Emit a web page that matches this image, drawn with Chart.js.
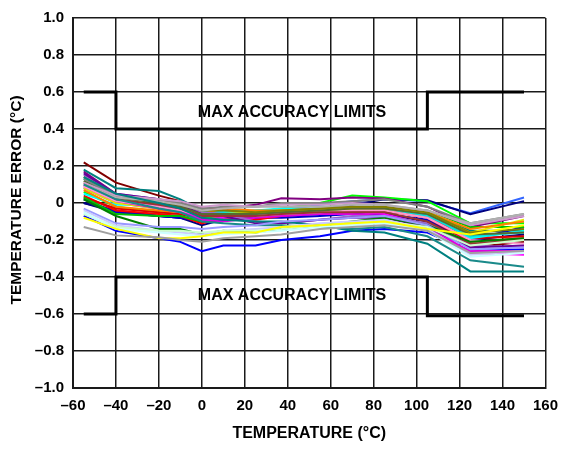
<!DOCTYPE html>
<html>
<head>
<meta charset="utf-8">
<script src="https://cdn.jsdelivr.net/npm/chart.js@4/dist/chart.umd.min.js"></script>
<style>
html,body{margin:0;padding:0;background:#fff;}
#wrap{width:567px;height:449px;}
</style>
</head>
<body>
<div id="wrap"><canvas id="c" width="567" height="449"></canvas></div>
<script>
const xTemps = [-55, -40, -20, -10, 0, 10, 25, 37, 55, 70, 85, 105, 125, 150];

const sDarkRed  = [0.22, 0.11, 0.04, 0.01, -0.03, -0.03, -0.05, -0.06, -0.05, -0.04, -0.07, -0.12, -0.24, -0.21];
const sTealHi   = [0.18, 0.08, 0.065, 0.02, -0.04, -0.05, -0.06, -0.04, -0.05, -0.05, -0.05, -0.06, -0.15, -0.15];
const sTealLo1  = [0.14, 0.05, 0.0, -0.03, -0.08, -0.09, -0.1, -0.1, -0.12, -0.15, -0.16, -0.22, -0.37, -0.37];
const sTealLo2  = [0.10, 0.02, -0.03, -0.05, -0.10, -0.11, -0.12, -0.12, -0.13, -0.14, -0.13, -0.18, -0.31, -0.345];
const sBlueHi   = [0.08, 0.0, -0.03, -0.04, -0.07, -0.06, -0.05, -0.04, -0.01, 0.01, 0.02, 0.01, -0.055, 0.03];
const sNavyHi   = [0.0, -0.05, -0.07, -0.08, -0.12, -0.09, -0.08, -0.06, -0.03, -0.01, 0.02, 0.015, -0.06, 0.01];
const sBlueLo   = [-0.07, -0.15, -0.19, -0.21, -0.26, -0.23, -0.23, -0.2, -0.18, -0.15, -0.14, -0.16, -0.26, -0.25];
const sLime     = [0.06, -0.02, -0.05, -0.06, -0.08, -0.07, -0.05, -0.03, 0.0, 0.04, 0.03, 0.01, -0.11, -0.11];
const sPurple   = [0.17, 0.05, 0.0, -0.02, -0.05, -0.03, -0.01, 0.025, 0.02, 0.03, 0.025, -0.02, -0.13, -0.07];
const sYellowLo = [-0.08, -0.14, -0.19, -0.19, -0.18, -0.16, -0.16, -0.13, -0.12, -0.11, -0.10, -0.14, -0.17, -0.12];
const sYellowHi = [0.08, 0.0, -0.03, -0.05, -0.07, -0.06, -0.05, -0.04, -0.04, -0.03, -0.03, -0.05, -0.16, -0.09];
const sGrayLo   = [-0.13, -0.175, -0.185, -0.2, -0.21, -0.19, -0.18, -0.17, -0.14, -0.13, -0.12, -0.15, -0.27, -0.26];
const sGrayHi   = [0.13, 0.04, 0.02, 0.0, -0.03, -0.02, -0.02, 0.0, 0.0, 0.01, 0.02, -0.02, -0.11, -0.06];
const sCyan1    = [0.05, -0.01, -0.01, -0.03, -0.06, -0.05, -0.04, -0.03, -0.03, -0.02, -0.02, -0.06, -0.19, -0.15];
const sCyan2    = [0.13, 0.03, 0.01, -0.01, -0.05, -0.05, -0.04, -0.04, -0.03, -0.03, -0.03, -0.07, -0.18, -0.16];
const sMagenta1 = [0.10, 0.02, -0.02, -0.04, -0.09, -0.08, -0.07, -0.06, -0.05, -0.05, -0.06, -0.12, -0.27, -0.28];
const sMagenta2 = [0.09, 0.01, -0.03, -0.05, -0.09, -0.10, -0.08, -0.07, -0.06, -0.06, -0.07, -0.14, -0.26, -0.26];
const sRed1     = [0.04, -0.04, -0.06, -0.07, -0.11, -0.08, -0.09, -0.07, -0.05, -0.04, -0.04, -0.08, -0.21, -0.19];
const sRed2     = [0.03, -0.03, -0.05, -0.06, -0.09, -0.08, -0.07, -0.06, -0.04, -0.03, -0.03, -0.07, -0.19, -0.18];
const sOrange   = [0.07, -0.02, -0.04, -0.05, -0.06, -0.03, -0.04, -0.04, -0.03, -0.02, -0.02, -0.05, -0.14, -0.10];
const sGreenDk  = [0.02, -0.07, -0.14, -0.14, -0.17, -0.15, -0.16, -0.14, -0.12, -0.10, -0.08, -0.12, -0.21, -0.19];
const sGreen2   = [0.03, -0.06, -0.07, -0.07, -0.10, -0.08, -0.07, -0.06, -0.05, -0.03, -0.02, -0.04, -0.13, -0.13];
const sLtBlue1  = [-0.03, -0.11, -0.13, -0.13, -0.14, -0.13, -0.12, -0.10, -0.09, -0.08, -0.07, -0.12, -0.25, -0.24];
const sLtBlue2  = [-0.04, -0.12, -0.15, -0.16, -0.17, -0.15, -0.14, -0.13, -0.11, -0.10, -0.09, -0.14, -0.28, -0.26];
const sLtCyan   = [-0.05, -0.14, -0.16, -0.17, -0.18, -0.17, -0.16, -0.15, -0.13, -0.12, -0.11, -0.15, -0.29, -0.27];
const sPaleGrn  = [-0.06, -0.13, -0.15, -0.15, -0.16, -0.15, -0.15, -0.14, -0.12, -0.11, -0.10, -0.13, -0.23, -0.20];
const sOlive    = [0.14, 0.04, 0.01, -0.01, -0.04, -0.04, -0.05, -0.04, -0.03, -0.02, -0.02, -0.05, -0.16, -0.14];
const sDkOlive  = [0.12, 0.03, 0.0, -0.02, -0.06, -0.06, -0.06, -0.05, -0.04, -0.03, -0.03, -0.06, -0.17, -0.16];
const sBrown    = [0.11, 0.02, -0.01, -0.03, -0.07, -0.07, -0.07, -0.06, -0.05, -0.05, -0.05, -0.10, -0.22, -0.20];
const sNavy2    = [0.0, -0.04, -0.07, -0.08, -0.10, -0.09, -0.08, -0.07, -0.06, -0.05, -0.06, -0.10, -0.20, -0.17];
const sBlue2    = [0.02, -0.05, -0.07, -0.08, -0.10, -0.09, -0.08, -0.08, -0.07, -0.06, -0.06, -0.09, -0.20, -0.13];
const sLavender = [0.11, 0.04, 0.02, 0.01, -0.02, -0.01, -0.02, -0.01, -0.01, 0.0, -0.01, -0.04, -0.12, -0.07];
const sViolet   = [0.15, 0.05, 0.02, -0.01, -0.05, -0.06, -0.10, -0.11, -0.09, -0.07, -0.07, -0.11, -0.23, -0.24];
const sPink     = [0.09, 0.01, -0.02, -0.04, -0.07, -0.06, -0.07, -0.06, -0.05, -0.04, -0.04, -0.08, -0.20, -0.22];
const sIndigo   = [0.16, 0.05, 0.02, -0.01, -0.06, -0.07, -0.11, -0.11, -0.09, -0.08, -0.08, -0.13, -0.24, -0.23];
const sSilver   = [0.10, 0.03, 0.01, -0.01, -0.04, -0.03, -0.02, -0.02, -0.02, -0.01, -0.01, -0.04, -0.11, -0.06];

const seriesList = [sGrayLo, sYellowLo, sLtCyan, sPaleGrn, sLtBlue2, sLtBlue1, sGreenDk, sTealLo1, sTealLo2,
  sSilver, sLavender, sGrayHi, sOlive, sDkOlive, sBrown, sIndigo, sViolet, sPink, sMagenta2, sMagenta1,
  sOrange, sYellowHi, sGreen2, sCyan2, sCyan1, sRed2, sRed1, sBlue2, sNavy2, sTealHi, sPurple, sDarkRed,
  sLime, sBlueLo, sNavyHi, sBlueHi];
const seriesColors = ['#a0a0a0', '#ffff00', '#ccffff', '#ccffcc', '#ccccff', '#9999ff', '#008000', '#008080', '#1a8a8a',
  '#b0b0b0', '#cc99cc', '#808080', '#808000', '#556b2f', '#993333', '#660099', '#9966cc', '#ff99cc', '#e000e0', '#ff00ff',
  '#ff8000', '#e6e600', '#00c000', '#00e0e0', '#00ffff', '#e00000', '#ff0000', '#0000cc', '#000080', '#008080', '#800080', '#800000',
  '#00ff00', '#0000ff', '#000080', '#3366ff'];

const limitX = [-55, -40, -40, 105, 105, 150];
const upperLimit = [0.6, 0.6, 0.4, 0.4, 0.6, 0.6];
const lowerLimit = [-0.6, -0.6, -0.4, -0.4, -0.61, -0.61];

const xTickValues = [-60, -40, -20, 0, 20, 40, 60, 80, 100, 120, 140, 160];
const xTickLabels = ['\u201360', '\u201340', '\u201320', '0', '20', '40', '60', '80', '100', '120', '140', '160'];
const yTickValues = [-1.0, -0.8, -0.6, -0.4, -0.2, 0, 0.2, 0.4, 0.6, 0.8, 1.0];
const yTickLabels = ['\u20131.0', '\u20130.8', '\u20130.6', '\u20130.4', '\u20130.2', '0', '0.2', '0.4', '0.6', '0.8', '1.0'];

const limitLabel = 'MAX ACCURACY LIMITS';
const limitLabelPos = [[42, 0.49], [42, -0.5]];
const xTitle = 'TEMPERATURE (\u00b0C)';
const yTitle = 'TEMPERATURE ERROR (\u00b0C)';

const FONT = '"Liberation Sans", Arial, sans-serif';

function toPts(xs, ys) { return xs.map((x, i) => ({x: x, y: ys[i]})); }

const datasets = seriesList.map((s, i) => ({
  data: toPts(xTemps, s), borderColor: seriesColors[i], borderWidth: 2,
  pointRadius: 0, fill: false, tension: 0
}));
datasets.push({data: toPts(limitX, upperLimit), borderColor: '#000', borderWidth: 3, pointRadius: 0, fill: false, tension: 0, borderCapStyle: 'butt'});
datasets.push({data: toPts(limitX, lowerLimit), borderColor: '#000', borderWidth: 3, pointRadius: 0, fill: false, tension: 0, borderCapStyle: 'butt'});

const textPlugin = {
  id: 'texts',
  afterDatasetsDraw(chart) {
    const ctx = chart.ctx, xs = chart.scales.x, ys = chart.scales.y;
    ctx.save();
    ctx.fillStyle = '#000';
    ctx.font = 'bold 16px ' + FONT;
    ctx.textAlign = 'center';
    ctx.textBaseline = 'middle';
    limitLabelPos.forEach(p => ctx.fillText(limitLabel, xs.getPixelForValue(p[0]), ys.getPixelForValue(p[1])));
    ctx.restore();
  },
  afterDraw(chart) {
    const ctx = chart.ctx;
    ctx.save();
    ctx.fillStyle = '#000';
    ctx.font = 'bold 15.5px ' + FONT;
    ctx.textAlign = 'center';
    ctx.textBaseline = 'middle';
    ctx.translate(17, 200);
    ctx.rotate(-Math.PI / 2);
    ctx.fillText(yTitle, 0, 0);
    ctx.restore();
  }
};

new Chart(document.getElementById('c'), {
  type: 'line',
  data: {datasets: datasets},
  plugins: [textPlugin],
  options: {
    responsive: false,
    animation: false,
    devicePixelRatio: 1,
    layout: {padding: {top: 12, right: 19, left: 0, bottom: 0}},
    plugins: {legend: {display: false}, tooltip: {enabled: false}},
    scales: {
      x: {
        type: 'linear', min: -60, max: 160,
        afterFit(s) { s.height = 61; },
        afterBuildTicks(s) { s.ticks = xTickValues.map(v => ({value: v})); },
        ticks: {
          color: '#000', padding: 9, maxRotation: 0, autoSkip: false,
          font: {family: FONT, size: 15, weight: 'bold'},
          callback: (v) => xTickLabels[xTickValues.indexOf(v)]
        },
        grid: {color: '#1a1a1a', lineWidth: 1.5, drawTicks: false},
        border: {color: '#1a1a1a', width: 2},
        title: {display: true, text: xTitle, color: '#000', padding: {top: 0, bottom: 6},
          font: {family: FONT, size: 16, weight: 'bold'}}
      },
      y: {
        type: 'linear', min: -1, max: 1,
        afterFit(s) { s.width = 73; },
        afterBuildTicks(s) { s.ticks = yTickValues.map(v => ({value: v})); },
        ticks: {
          color: '#000', padding: 9, autoSkip: false,
          font: {family: FONT, size: 15, weight: 'bold'},
          callback: (v) => yTickLabels[yTickValues.findIndex(t => Math.abs(t - v) < 1e-9)]
        },
        grid: {color: '#1a1a1a', lineWidth: 1.5, drawTicks: false},
        border: {color: '#1a1a1a', width: 2}
      }
    }
  }
});
</script>
</body>
</html>
